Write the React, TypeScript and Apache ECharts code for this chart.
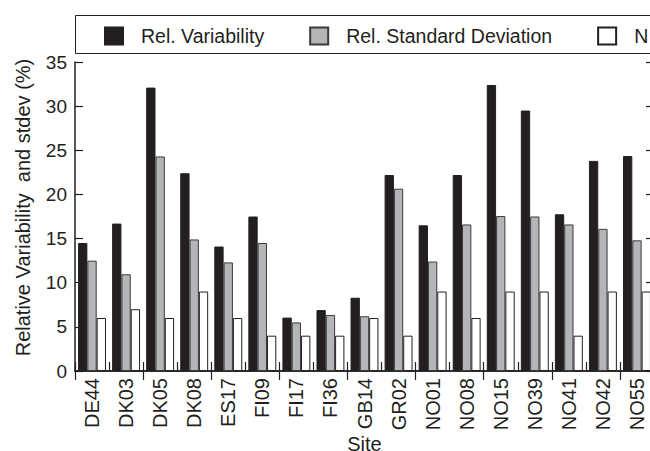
import React, { useEffect, useRef } from "react";
import * as echarts from "echarts";

const sites = ["DE44","DK03","DK05","DK08","ES17","FI09","FI17","FI36","GB14","GR02","NO01","NO08","NO15","NO39","NO41","NO42","NO55"];
const relVariability = [14.5,16.7,32.1,22.4,14.1,17.5,6.05,6.9,8.3,22.2,16.5,22.2,32.4,29.5,17.75,23.8,24.35];
const relStdDev = [12.5,10.95,24.3,14.9,12.3,14.5,5.5,6.35,6.2,20.65,12.4,16.6,17.55,17.5,16.6,16.1,14.8];
const nSamples = [6,7,6,9,6,4,4,4,6,4,9,6,9,9,4,9,9];
const yTicksMax = 35;

const FONT = "'Liberation Sans', Arial, Helvetica, sans-serif";
const INK = "#231f20";

export default function App() {
  const ref = useRef<HTMLDivElement>(null);
  useEffect(() => {
    if (!ref.current) return;
    const chart = echarts.init(ref.current, undefined, { renderer: "svg" });
    const axisLine = { show: true, lineStyle: { color: INK, width: 1.5 } };
    chart.setOption({
      animation: false,
      backgroundColor: "#fff",
      textStyle: { fontFamily: FONT, color: INK },
      graphic: [
        {
          type: "rect",
          shape: { x: 75.5, y: 15.5, width: 640, height: 38 },
          style: { fill: "none", stroke: INK, lineWidth: 1 },
          silent: true,
        },
      ],
      legend: {
        left: 104,
        top: 26,
        itemWidth: 18,
        itemHeight: 17,
        itemGap: 45,
        icon: "rect",
        padding: 0,
        textStyle: { fontFamily: FONT, fontSize: 19.5, color: INK, padding: [0, 0, 0, 13] },
        data: ["Rel. Variability", "Rel. Standard Deviation", "N"],
      },
      grid: { left: 75, top: 62, width: 579, height: 309, containLabel: false, outerBoundsMode: "none" },
      xAxis: [
        {
          type: "category",
          data: sites,
          position: "bottom",
          axisLine,
          axisTick: { show: true, inside: true, length: 9, lineStyle: { color: INK, width: 1.2 } },
          axisLabel: { rotate: 90, margin: 7, fontSize: 20, fontFamily: FONT, color: INK, interval: 0 },
          name: "Site",
          nameLocation: "middle",
          nameGap: 63,
          nameMoveOverlap: false,
          nameTextStyle: { fontSize: 20, fontFamily: FONT, color: INK },
        },
        {
          type: "category",
          data: sites,
          position: "top",
          axisLine,
          axisTick: { show: true, inside: true, length: 9, lineStyle: { color: INK, width: 1.2 } },
          axisLabel: { show: false },
        },
      ],
      yAxis: [
        {
          type: "value",
          min: 0,
          max: yTicksMax,
          interval: 5,
          position: "left",
          axisLine,
          axisTick: { show: true, inside: true, length: 8, lineStyle: { color: INK, width: 1.2 } },
          axisLabel: { margin: 8, fontSize: 19, fontFamily: FONT, color: INK },
          splitLine: { show: false },
          name: "Relative Variability  and stdev (%)",
          nameLocation: "middle",
          nameGap: 42,
          nameMoveOverlap: false,
          nameTextStyle: { fontSize: 20, fontFamily: FONT, color: INK, padding: [0, 0, 0, 18] },
        },
        {
          type: "value",
          min: 0,
          max: yTicksMax,
          interval: 5,
          position: "right",
          axisLine,
          axisTick: { show: true, inside: true, length: 8, lineStyle: { color: INK, width: 1.2 } },
          axisLabel: { show: false },
          splitLine: { show: false },
        },
      ],
      series: [
        {
          name: "Rel. Variability",
          type: "bar",
          data: relVariability,
          barGap: "0%",
          barCategoryGap: "18%",
          itemStyle: { color: INK, borderColor: INK, borderWidth: 1 },
        },
        {
          name: "Rel. Standard Deviation",
          type: "bar",
          data: relStdDev,
          barGap: "0%",
          barCategoryGap: "18%",
          itemStyle: { color: "#b4b5b8", borderColor: "#3a3a3a", borderWidth: 1 },
        },
        {
          name: "N",
          type: "bar",
          data: nSamples,
          barGap: "0%",
          barCategoryGap: "18%",
          itemStyle: { color: "#ffffff", borderColor: INK, borderWidth: 1 },
        },
      ],
    });
    return () => chart.dispose();
  }, []);
  return (
    <div style={{ position: "fixed", left: 0, top: 0, width: 650, height: 451, overflow: "hidden", background: "#fff" }}>
      <div ref={ref} style={{ width: 700, height: 451 }} />
    </div>
  );
}
